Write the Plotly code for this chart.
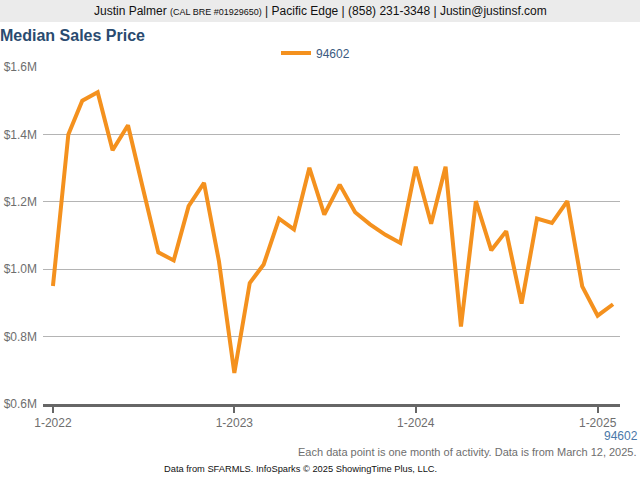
import plotly.graph_objects as go
import pandas as pd

series_name = "94602"
months = pd.date_range("2022-01-01", periods=38, freq="MS")
median_price = [
    950000, 1400000, 1500000, 1525000, 1353000, 1427000, 1240000, 1050000,
    1026000, 1187000, 1256000, 1024000, 692000, 959000, 1014000, 1150000,
    1118000, 1301000, 1162000, 1251000, 1169000, 1133000, 1102000, 1078000,
    1304000, 1135000, 1304000, 830000, 1202000, 1056000, 1113000, 898000,
    1150000, 1137000, 1202000, 949000, 862000, 896000,
]
y_tickvals = [600000, 800000, 1000000, 1200000, 1400000, 1600000]
y_ticktext = ["$0.6M", "$0.8M", "$1.0M", "$1.2M", "$1.4M", "$1.6M"]
x_tickvals = ["2022-01-01", "2023-01-01", "2024-01-01", "2025-01-01"]
x_ticktext = ["1-2022", "1-2023", "1-2024", "1-2025"]

W, H = 640, 480
L, R, T, B = 43, 20, 67, 76
pw, ph = W - L - R, H - T - B


def px(x):
    return (x - L) / pw


def py(y):
    return (H - B - y) / ph


FONT = "Liberation Sans, Arial, sans-serif"

fig = go.Figure()
fig.add_trace(go.Scatter(
    x=months, y=median_price, mode="lines", name=series_name,
    line=dict(color="#F4911E", width=4),
    hovertemplate="%{x|%b %Y}: $%{y:,.0f}<extra></extra>",
))

fig.update_layout(
    width=W, height=H,
    margin=dict(l=L, r=R, t=T, b=B, autoexpand=False),
    paper_bgcolor="white", plot_bgcolor="white",
    font=dict(family=FONT, size=12, color="#6E6E6E"),
    showlegend=True,
    legend=dict(orientation="h", x=px(276), xanchor="left", y=py(53), yanchor="middle",
                font=dict(size=12, color="#3A5A80"), bgcolor="rgba(0,0,0,0)",
                itemwidth=30, tracegroupgap=0),
    xaxis=dict(
        type="date", range=["2021-12-12", "2025-02-15"],
        tickvals=x_tickvals, ticktext=x_ticktext,
        showgrid=False, zeroline=False,
        showline=True, linecolor="#666666", linewidth=3,
        ticks="outside", ticklen=6, tickwidth=2, tickcolor="#666666",
        tickfont=dict(size=12, color="#6E6E6E"),
        fixedrange=True,
    ),
    yaxis=dict(
        range=[600000, 1600000],
        tickvals=y_tickvals, ticktext=y_ticktext,
        showgrid=True, gridcolor="#B4B4B4", gridwidth=1,
        zeroline=False, showline=False, ticks="", ticklabelstandoff=5,
        tickfont=dict(size=12, color="#6E6E6E"),
        fixedrange=True,
    ),
    shapes=[
        dict(type="rect", xref="paper", yref="paper",
             x0=px(0), x1=px(W), y0=py(22), y1=py(0),
             fillcolor="#EBEBEB", line=dict(width=0), layer="below"),
    ],
    annotations=[
        dict(xref="paper", yref="paper", x=px(320), y=py(11), xanchor="center", yanchor="middle",
             showarrow=False,
             text="Justin Palmer <span style='font-size:9px'>(CAL BRE #01929650)</span> | Pacific Edge | (858) 231-3348 | Justin@justinsf.com",
             font=dict(size=12, color="#111111", family=FONT)),
        dict(xref="paper", yref="paper", x=px(-2), y=py(35), xanchor="left", yanchor="middle",
             showarrow=False, text="<b>Median Sales Price</b>",
             font=dict(size=16, color="#2A4B70", family=FONT)),
        dict(xref="paper", yref="paper", x=px(640), y=py(436), xanchor="right", yanchor="middle",
             showarrow=False, text=series_name,
             font=dict(size=12, color="#4A78A8", family=FONT)),
        dict(xref="paper", yref="paper", x=px(639), y=py(452), xanchor="right", yanchor="middle",
             showarrow=False,
             text="Each data point is one month of activity. Data is from March 12, 2025.",
             font=dict(size=11, color="#6E6E6E", family=FONT)),
        dict(xref="paper", yref="paper", x=px(300), y=py(469), xanchor="center", yanchor="middle",
             showarrow=False,
             text="Data from SFARMLS. InfoSparks © 2025 ShowingTime Plus, LLC.",
             font=dict(size=9.3, color="#111111", family=FONT)),
    ],
)

fig.write_html("out.html")
